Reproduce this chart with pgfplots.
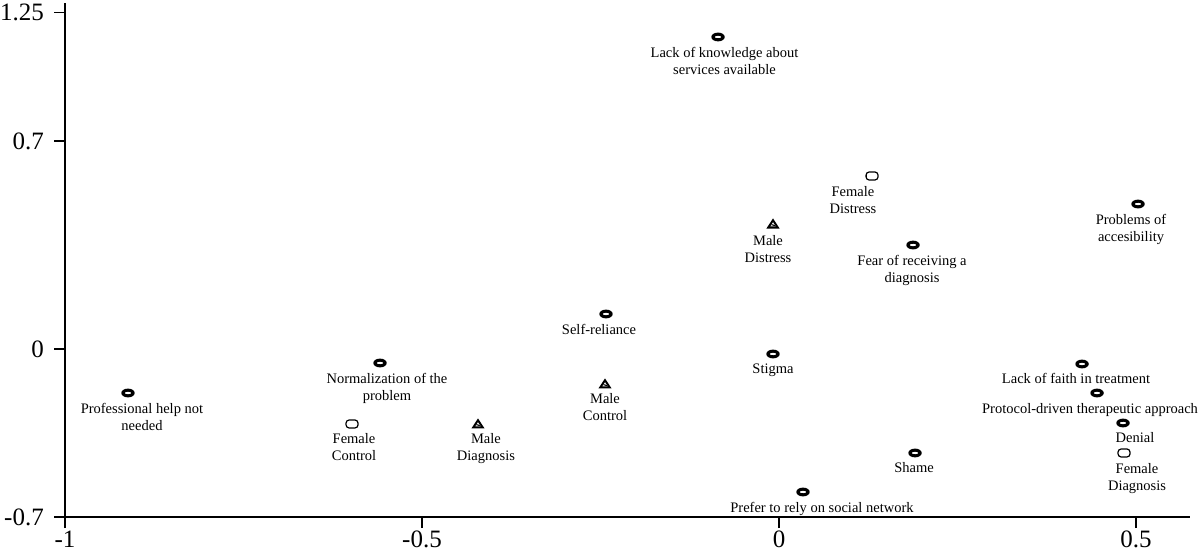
\documentclass[border=0pt]{standalone}
\usepackage{fontspec}
\setmainfont{Liberation Serif}
\usepackage{pgfplots}
\pgfplotsset{compat=1.18}
\tikzset{lbl/.style={font=\fontsize{14.5}{17}\selectfont, align=center, anchor=north, inner sep=0pt}}
\pgfdeclareplotmark{ring}{%
  \pgfpathellipse{\pgfpointorigin}{\pgfpoint{6.7pt}{0pt}}{\pgfpoint{0pt}{4.4pt}}%
  \pgfpathellipse{\pgfpointorigin}{\pgfpoint{3.4pt}{0pt}}{\pgfpoint{0pt}{1.3pt}}%
  \pgfseteorule
  \pgfusepathqfill}
\def\rrpath#1#2#3{%
  \pgfpathmoveto{\pgfpoint{-#1pt+#3pt}{-#2pt}}%
  \pgfpathlineto{\pgfpoint{#1pt-#3pt}{-#2pt}}%
  \pgfpatharc{-90}{0}{#3pt}%
  \pgfpathlineto{\pgfpoint{#1pt}{#2pt-#3pt}}%
  \pgfpatharc{0}{90}{#3pt}%
  \pgfpathlineto{\pgfpoint{-#1pt+#3pt}{#2pt}}%
  \pgfpatharc{90}{180}{#3pt}%
  \pgfpathlineto{\pgfpoint{-#1pt}{-#2pt+#3pt}}%
  \pgfpatharc{180}{270}{#3pt}%
  \pgfpathclose}
\pgfdeclareplotmark{rrect}{%
  \rrpath{6.6}{4.6}{3.6}%
  \rrpath{5.3}{3.3}{2.3}%
  \pgfseteorule
  \pgfusepathqfill}
\pgfdeclareplotmark{mtri}{%
  \pgfpathmoveto{\pgfpoint{-6.6pt}{-4.5pt}}%
  \pgfpathlineto{\pgfpoint{6.6pt}{-4.5pt}}%
  \pgfpathlineto{\pgfpoint{0pt}{5.6pt}}%
  \pgfpathclose
  \pgfpathmoveto{\pgfpoint{-2.8pt}{-2.3pt}}%
  \pgfpathlineto{\pgfpoint{2.8pt}{-2.3pt}}%
  \pgfpathlineto{\pgfpoint{0pt}{2.0pt}}%
  \pgfpathclose
  \pgfseteorule
  \pgfusepathqfill
  \pgfsetlinewidth{1.1pt}%
  \pgfpathmoveto{\pgfpoint{-1.6pt}{-0.6pt}}%
  \pgfpathlineto{\pgfpoint{1.8pt}{-1.6pt}}%
  \pgfusepathqstroke}
\begin{document}
\begin{tikzpicture}
\begin{axis}[
  scale only axis,
  width=1125pt, height=514pt,
  xmin=-1, xmax=0.5756,
  ymin=-0.5655, ymax=1.1646,
  axis lines=left,
  axis line style={-, line width=1.2pt},
  clip=false,
  tick align=outside,
  major tick length=11pt,
  tick style={line width=1.1pt, black},
  xtick={-1,-0.5,0,0.5},
  xticklabels={-1,-0.5,0,0.5},
  ytick={-0.5655,0,0.7,1.132},
  yticklabels={-0.7,0,0.7,1.25},
  every tick label/.append style={font=\fontsize{25}{25}\selectfont, inner sep=0pt},
  xticklabel style={yshift=-3pt},
  yticklabel style={xshift=-10pt},
]
% barriers
\addplot[only marks, mark=ring, black] table {
x y
-0.0854 1.0502
0.1877 0.3500
0.5028 0.4880
-0.2423 0.1178
-0.0084 -0.0168
-0.5588 -0.0471
-0.9118 -0.1481
0.4244 -0.0505
0.4454 -0.1481
0.4818 -0.2491
0.1905 -0.3500
0.0336 -0.4813
};
% female
\addplot[only marks, mark=rrect, black] table {
x y
0.1303 0.5823
-0.5980 -0.2524
0.4832 -0.3500
};
% male
\addplot[only marks, mark=mtri, black] table {
x y
-0.0084 0.4207
-0.2437 -0.1178
-0.4216 -0.2524
};
\node[lbl] at (axis cs:-0.0763,1.0165) {Lack of knowledge about\\services available};
\node[lbl] at (axis cs:0.1036,0.5486) {Female\\Distress};
\node[lbl] at (axis cs:-0.0154,0.3837) {Male\\Distress};
\node[lbl] at (axis cs:0.1863,0.3164) {Fear of receiving a\\diagnosis};
\node[lbl] at (axis cs:0.4930,0.4544) {Problems of\\accesibility};
\node[lbl] at (axis cs:-0.2521,0.0841) {Self-reliance};
\node[lbl] at (axis cs:-0.2437,-0.1481) {Male\\Control};
\node[lbl] at (axis cs:-0.0084,-0.0505) {Stigma};
\node[lbl] at (axis cs:-0.5490,-0.0808) {Normalization of the\\problem};
\node[lbl] at (axis cs:-0.5952,-0.2827) {Female\\Control};
\node[lbl] at (axis cs:-0.4104,-0.2827) {Male\\Diagnosis};
\node[lbl] at (axis cs:-0.8922,-0.1818) {Professional help not\\needed};
\node[lbl] at (axis cs:0.4160,-0.0808) {Lack of faith in treatment};
\node[lbl] at (axis cs:0.4356,-0.1818) {Protocol-driven therapeutic approach};
\node[lbl] at (axis cs:0.4986,-0.2794) {Denial};
\node[lbl] at (axis cs:0.5014,-0.3837) {Female\\Diagnosis};
\node[lbl] at (axis cs:0.1891,-0.3803) {Shame};
\node[lbl] at (axis cs:0.0602,-0.5150) {Prefer to rely on social network};
\coordinate (sw) at (rel axis cs:0,0);
\coordinate (ne) at (rel axis cs:1,1);
\end{axis}
\pgfresetboundingbox
\path[use as bounding box] ([shift={(-65pt,-37pt)}]sw) rectangle ([shift={(10pt,3pt)}]ne);
\end{tikzpicture}
\end{document}
